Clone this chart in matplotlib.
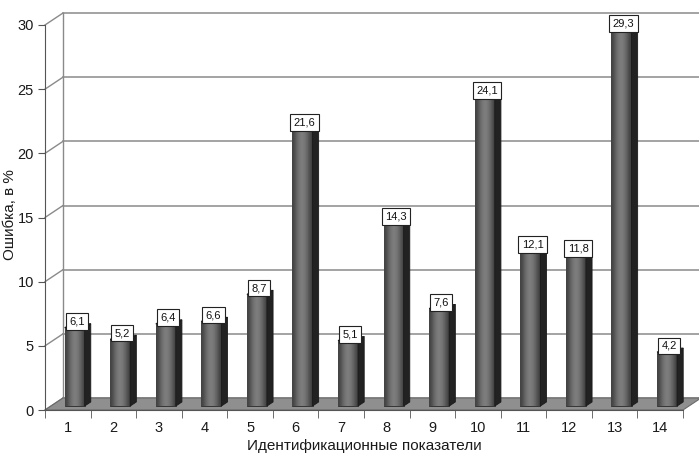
import numpy as np
import matplotlib
matplotlib.use("Agg")
import matplotlib.pyplot as plt
from matplotlib.patches import Polygon, Rectangle

plt.rcParams['font.family'] = ['Liberation Sans', 'DejaVu Sans']

# --- data ---
categories = list(range(1, 15))
values = [6.1, 5.2, 6.4, 6.6, 8.7, 21.6, 5.1, 14.3, 7.6, 24.1, 12.1, 11.8, 29.3, 4.2]
value_labels = ["6,1", "5,2", "6,4", "6,6", "8,7", "21,6", "5,1", "14,3",
                "7,6", "24,1", "12,1", "11,8", "29,3", "4,2"]
yticks = [0, 5, 10, 15, 20, 25, 30]

# pseudo-3D depth offsets (data units)
DX, DY = 0.395, 0.935
F0, F1 = 0.33, 0.67       # bar depth range as fraction of wall depth
W = 0.44                  # bar width

fig = plt.figure(figsize=(6.99, 4.57), dpi=100)
ax = fig.add_axes([45/699, 47/457, 638/699, 385/457])

grid_c = '#8a8a8a'
# back wall gridlines + left wall diagonals
for v in yticks:
    ax.plot([0.5 + DX, 14.5 + DX], [v + DY, v + DY], color=grid_c, lw=1.1,
            clip_on=False, zorder=1)
    ax.plot([0.5, 0.5 + DX], [v, v + DY], color=grid_c, lw=1.0,
            clip_on=False, zorder=1)
ax.plot([0.5 + DX, 0.5 + DX], [DY, 30 + DY], color=grid_c, lw=1.0, clip_on=False, zorder=1)
ax.plot([14.5 + DX, 14.5 + DX], [DY, 30 + DY], color='#bdbdbd', lw=1.0, clip_on=False, zorder=1)

# floor
floor = Polygon([(0.5, 0), (14.5, 0), (14.5 + DX, DY), (0.5 + DX, DY)],
                closed=True, facecolor='#8f8f8f', edgecolor='#6a6a6a', lw=0.8,
                clip_on=False, zorder=2)
ax.add_patch(floor)

# gradient for bar fronts
grad = np.array([[0.26, 0.38, 0.47, 0.50, 0.45, 0.36, 0.24]])

for c, v, lab in zip(categories, values, value_labels):
    x0 = c + F0 * DX - W / 2 + 0.02
    y0 = F0 * DY
    sdx, sdy = (F1 - F0) * DX, (F1 - F0) * DY
    rect = Rectangle((x0, y0), W, v, facecolor='#666666', edgecolor='#2a2a2a',
                     lw=0.6, zorder=3, clip_on=False)
    ax.add_patch(rect)
    im = ax.imshow(grad, extent=[x0, x0 + W, y0, y0 + v], cmap='gray',
                   vmin=0, vmax=1, aspect='auto', interpolation='bicubic',
                   zorder=3.1, clip_on=False)
    im.set_clip_path(rect)
    side = Polygon([(x0 + W, y0), (x0 + W + sdx, y0 + sdy),
                    (x0 + W + sdx, y0 + sdy + v), (x0 + W, y0 + v)],
                   closed=True, facecolor='#222222', edgecolor='#1a1a1a', lw=0.6,
                   zorder=3.2, clip_on=False)
    ax.add_patch(side)
    top = Polygon([(x0, y0 + v), (x0 + W, y0 + v), (x0 + W + sdx, y0 + sdy + v),
                   (x0 + sdx, y0 + sdy + v)],
                  closed=True, facecolor='#555555', edgecolor='#1a1a1a', lw=0.6,
                  zorder=3.2, clip_on=False)
    ax.add_patch(top)
    ax.text(c + 0.5 * DX, y0 + v + 0.1, lab, ha='center', va='bottom',
            fontsize=8, color='#111111', zorder=6, clip_on=False,
            bbox=dict(boxstyle='square,pad=0.3', facecolor='white',
                      edgecolor='#222222', lw=0.8))

ax.set_xlim(0.5, 14.5)
ax.set_ylim(0, 30)
ax.set_aspect('auto')

for s in ['top', 'right']:
    ax.spines[s].set_visible(False)
ax.spines['left'].set_color('#555555')
ax.spines['bottom'].set_color('#555555')
ax.spines['left'].set_zorder(4)

ax.set_yticks(yticks)
ax.set_yticklabels([str(t) for t in yticks])
ax.set_xticks(categories)
ax.set_xticklabels([str(c) for c in categories])
ax.set_xticks(np.arange(0.5, 15, 1.0), minor=True)
ax.tick_params(axis='y', length=5, color='#555555', labelsize=10.5, pad=3, labelcolor='#1a1a1a')
ax.tick_params(axis='x', which='major', length=0, labelsize=10.5, pad=8, labelcolor='#1a1a1a')
ax.tick_params(axis='x', which='minor', length=6, color='#555555')

ax.set_xlabel("Идентификационные показатели", fontsize=11, color='#1a1a1a', labelpad=3)
fig.text(10/699, 1 - 215/457, "Ошибка, в %", rotation=90, ha='center', va='center',
         fontsize=11, color='#1a1a1a')

fig.savefig("out.png", dpi=100)
